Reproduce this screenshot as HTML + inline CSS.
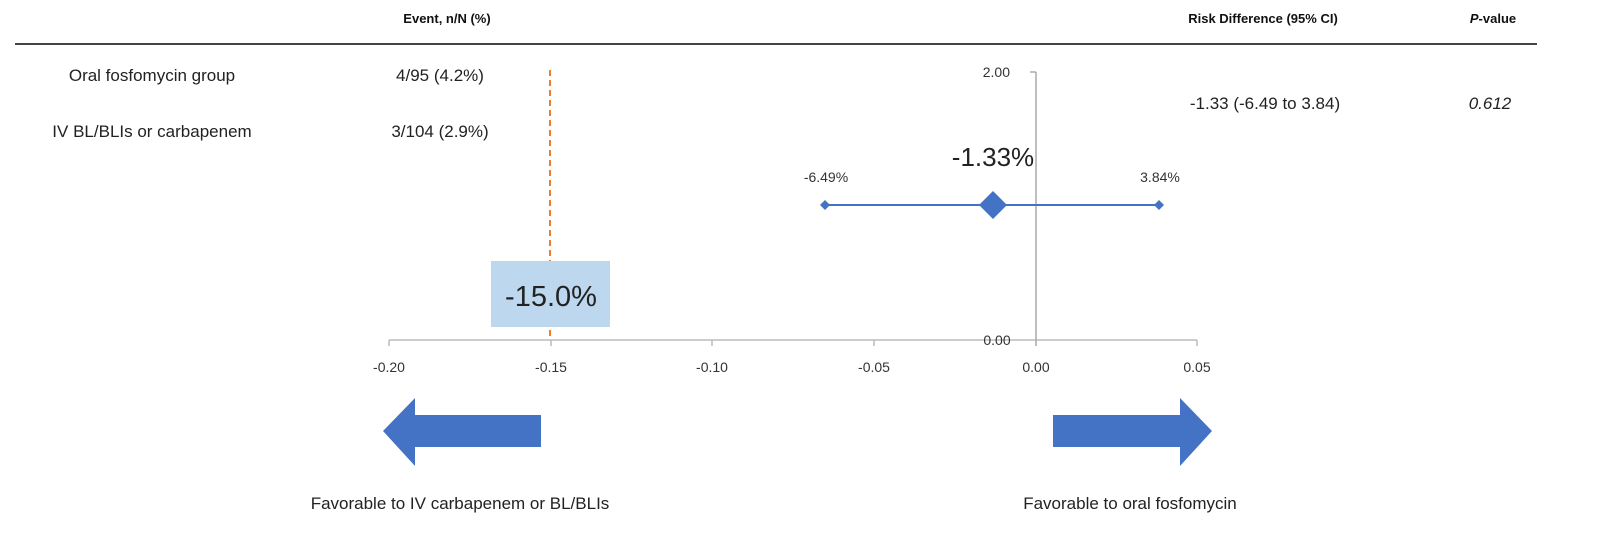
<!DOCTYPE html>
<html><head><meta charset="utf-8"><style>
html,body{margin:0;padding:0;background:#fff;}
svg{display:block;font-family:"Liberation Sans","Noto Sans CJK KR",sans-serif;}
</style></head><body>
<svg width="1600" height="546" viewBox="0 0 1600 546" xmlns="http://www.w3.org/2000/svg">
<g font-weight="bold" font-size="13" fill="#111">
<text x="447" y="23" text-anchor="middle">Event, n/N (%)</text>
<text x="1263" y="23" text-anchor="middle">Risk Difference (95% CI)</text>
<text x="1493" y="23" text-anchor="middle"><tspan font-style="italic">P</tspan>-value</text>
</g>
<line x1="15" y1="44" x2="1537" y2="44" stroke="#444" stroke-width="2"/>
<g font-size="17" fill="#222">
<text x="152" y="81" text-anchor="middle">Oral fosfomycin group</text>
<text x="152" y="137" text-anchor="middle">IV BL/BLIs or carbapenem</text>
<text x="440" y="81" text-anchor="middle">4/95 (4.2%)</text>
<text x="440" y="137" text-anchor="middle">3/104 (2.9%)</text>
<text x="1265" y="109" text-anchor="middle">-1.33 (-6.49 to 3.84)</text>
<text x="1490" y="109" text-anchor="middle" font-style="italic">0.612</text>
</g>
<line x1="550" y1="70" x2="550" y2="340" stroke="#ED7D31" stroke-width="2" stroke-dasharray="6,4"/>
<rect x="491" y="261" width="119" height="66" fill="#BDD7EE"/>
<text x="551" y="306" text-anchor="middle" font-size="29" fill="#222">-15.0%</text>
<line x1="389" y1="340" x2="1197" y2="340" stroke="#bbb" stroke-width="1.5"/>
<g stroke="#bbb" stroke-width="1.5">
<line x1="389" y1="340" x2="389" y2="346"/><line x1="551" y1="340" x2="551" y2="346"/>
<line x1="712" y1="340" x2="712" y2="346"/><line x1="874" y1="340" x2="874" y2="346"/>
<line x1="1197" y1="340" x2="1197" y2="346"/>
</g>
<line x1="1036" y1="72" x2="1036" y2="346" stroke="#aaa" stroke-width="1.5"/>
<line x1="1030" y1="72" x2="1036" y2="72" stroke="#aaa" stroke-width="1.5"/>
<g font-size="14" fill="#333" text-anchor="middle">
<text x="389" y="372">-0.20</text><text x="551" y="372">-0.15</text>
<text x="712" y="372">-0.10</text><text x="874" y="372">-0.05</text>
<text x="1036" y="372">0.00</text><text x="1197" y="372">0.05</text>
<text x="1010" y="77" text-anchor="end" x="1016">2.00</text>
<text x="997" y="345">0.00</text>
<text x="826" y="182">-6.49%</text>
<text x="1160" y="182">3.84%</text>
</g>
<text x="993" y="166" text-anchor="middle" font-size="26" fill="#222">-1.33%</text>
<line x1="825" y1="205" x2="1159" y2="205" stroke="#4472C4" stroke-width="2"/>
<polygon points="825,200 830,205 825,210 820,205" fill="#4472C4"/>
<polygon points="1159,200 1164,205 1159,210 1154,205" fill="#4472C4"/>
<polygon points="993,191 1007,205 993,219 979,205" fill="#4472C4"/>
<polygon points="383,431 415,398 415,415 541,415 541,447 415,447 415,466" fill="#4472C4"/>
<polygon points="1212,431 1180,398 1180,415 1053,415 1053,447 1180,447 1180,466" fill="#4472C4"/>
<g font-size="17" fill="#222" text-anchor="middle">
<text x="460" y="509">Favorable to IV carbapenem or BL/BLIs</text>
<text x="1130" y="509">Favorable to oral fosfomycin</text>
</g>
</svg>
</body></html>
